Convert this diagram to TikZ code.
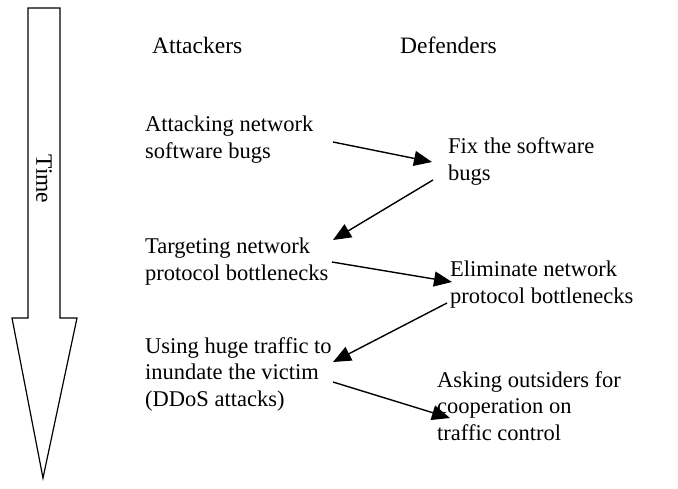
\documentclass[tikz,border=0pt]{standalone}
\usepackage{fontspec}
\setmainfont{Liberation Serif}
\usetikzlibrary{arrows.meta}
\begin{document}
\begin{tikzpicture}[x=1pt,y=-1pt,
  txt/.style={font=\fontsize{22.5}{26.5}\selectfont, align=left, anchor=base west, inner sep=0pt},
  head/.style={txt, font=\fontsize{23.5}{27}\selectfont},
  link/.style={line width=1.4pt, -{Triangle[length=18pt,width=15pt,fill=black]}},
  timearrow/.style={line width=1.2pt, line join=miter}]
\useasboundingbox (0,0) rectangle (678,488);
% time arrow
\draw[timearrow] (28,8) -- (60,8) -- (60,318) -- (77,318) -- (43,478) -- (12,318) -- (28,318) -- cycle;
\node[rotate=-90, font=\fontsize{23.5}{27}\selectfont, inner sep=0pt] (time) at (44,179) {Time};
% column headings (anchored on the last baseline of each block)
\node[head] (att) at (152,53) {Attackers};
\node[head] (def) at (400,53) {Defenders};
% attacker steps
\node[txt] (a1) at (145,158) {Attacking network\\software bugs};
\node[txt] (a2) at (145,280) {Targeting network\\protocol bottlenecks};
\node[txt] (a3) at (145,406) {Using huge traffic to\\inundate the victim\\(DDoS attacks)};
% defender responses
\node[txt] (d1) at (448,180) {Fix the software\\bugs};
\node[txt] (d2) at (450,303) {Eliminate network\\protocol bottlenecks};
\node[txt] (d3) at (437,440) {Asking outsiders for\\cooperation on\\traffic control};
% connector ends
\coordinate (a1o) at (333,142);
\coordinate (d1i) at (432,162);
\coordinate (d1o) at (433,180);
\coordinate (a2i) at (333,240);
\coordinate (a2o) at (332,262);
\coordinate (d2i) at (452,282);
\coordinate (d2o) at (447,303);
\coordinate (a3i) at (333,362);
\coordinate (a3o) at (333,382);
\coordinate (d3i) at (450,418);
\draw[link] (a1o) -- (d1i);
\draw[link] (d1o) -- (a2i);
\draw[link] (a2o) -- (d2i);
\draw[link] (d2o) -- (a3i);
\draw[link] (a3o) -- (d3i);
\end{tikzpicture}
\end{document}
